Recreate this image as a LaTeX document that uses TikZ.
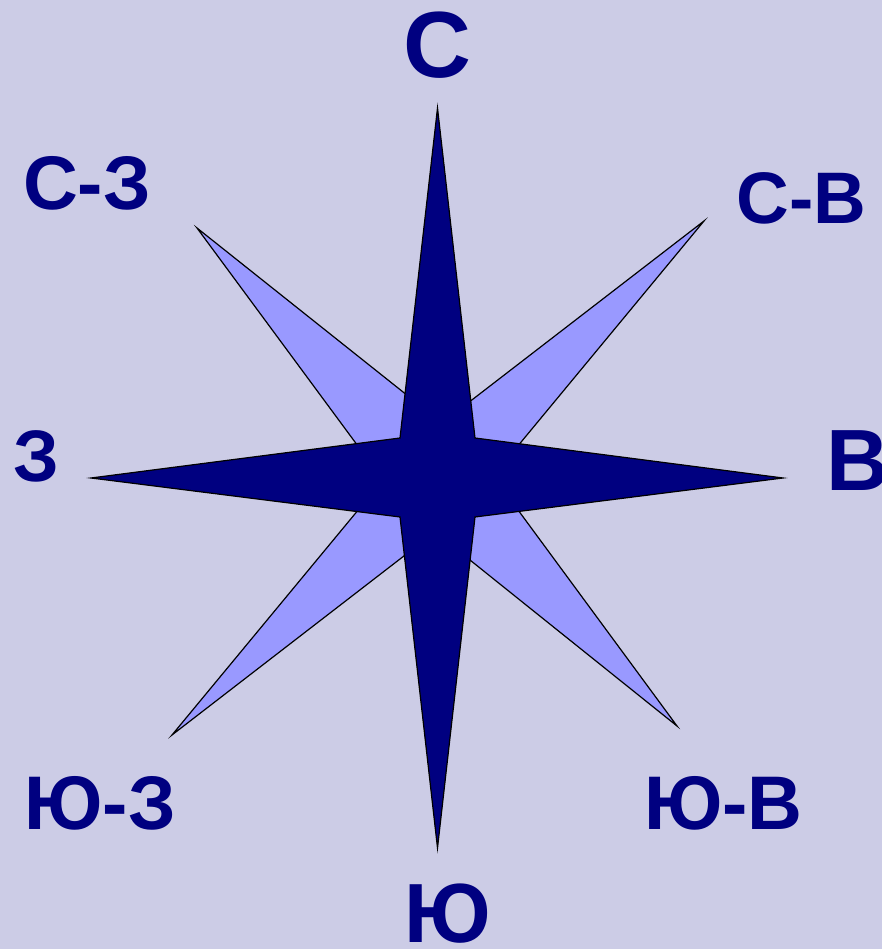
\documentclass[tikz,border=0pt]{standalone}
\usepackage{fontspec}
\setmainfont{Liberation Sans}
\definecolor{bgcol}{RGB}{204,204,230}
\definecolor{navy}{RGB}{0,0,128}
\definecolor{lightstar}{RGB}{153,153,255}
\begin{document}
\begin{tikzpicture}[x=1pt,y=1pt,
  lbl/.style={text=navy,font=\bfseries,inner sep=0pt,anchor=center},
  starline/.style={draw=black,line width=1.2pt,line join=miter}]
\fill[bgcol] (0,0) rectangle (882,949);
\useasboundingbox (0,0) rectangle (882,949);
% light diagonal star
\filldraw[starline,fill=lightstar]
  (197,721) -- (442,526) -- (704,728) -- (493,473) -- (677,223)
  -- (435,417) -- (172,214) -- (383,469) -- cycle;
% dark cardinal star
\filldraw[starline,fill=navy]
  (437.5,841) -- (475,511) -- (783,471) -- (475,432) -- (437.5,101)
  -- (400,432) -- (91,471) -- (400,511) -- cycle;
% labels
\node[lbl,font=\bfseries\fontsize{94}{94}\selectfont] (n) at (437.5,904) {С};
\node[lbl,font=\bfseries\fontsize{84}{84}\selectfont] (s) at (447.5,35) {Ю};
\node[lbl,font=\bfseries\fontsize{73}{73}\selectfont] (w) at (36,493) {З};
\node[lbl,font=\bfseries\fontsize{87}{87}\selectfont] (e) at (858,488) {В};
\node[lbl,font=\bfseries\fontsize{76}{76}\selectfont] (nw) at (87,765.5) {С-З};
\node[lbl,font=\bfseries\fontsize{73}{73}\selectfont] (ne) at (801.5,751) {С-В};
\node[lbl,font=\bfseries\fontsize{76}{76}\selectfont] (sw) at (100,145.5) {Ю-З};
\node[lbl,font=\bfseries\fontsize{76}{76}\selectfont] (se) at (723.5,145.5) {Ю-В};
\end{tikzpicture}
\end{document}
